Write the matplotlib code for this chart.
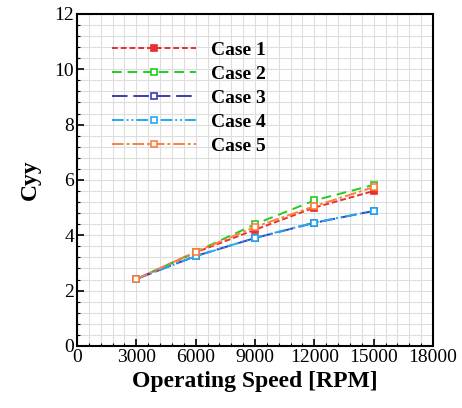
import matplotlib
matplotlib.use("Agg")
import matplotlib.pyplot as plt
from matplotlib.ticker import MultipleLocator

rpm = [3000, 6000, 9000, 12000, 15000]
case1 = [2.42, 3.38, 4.20, 5.00, 5.60]
case2 = [2.42, 3.40, 4.40, 5.26, 5.82]
case3 = [2.42, 3.25, 3.90, 4.45, 4.88]
case4 = [2.42, 3.24, 3.91, 4.46, 4.88]
case5 = [2.42, 3.40, 4.30, 5.05, 5.74]
labels = ["Case 1", "Case 2", "Case 3", "Case 4", "Case 5"]

plt.rcParams['font.family'] = ['Liberation Serif', 'DejaVu Serif']

fig = plt.figure(figsize=(4.62, 4.08), dpi=100)
ax = fig.add_axes([0.1667, 0.152, 0.7706, 0.814])

styles = [
    dict(color="#e8302c", ls=(0, (3, 1.5)), mfc="#e8302c"),
    dict(color="#22cc22", ls=(0, (5, 3)), mfc="white"),
    dict(color="#3c3cb4", ls=(0, (8, 3)), mfc="white"),
    dict(color="#22aaf0", ls=(0, (6, 1.5, 1, 1.5, 1, 1.5)), mfc="white"),
    dict(color="#ff7f40", ls=(0, (6, 1.5, 1.5, 1.5)), mfc="white"),
]
for y, lab, st in zip([case1, case2, case3, case4, case5], labels, styles):
    ax.plot(rpm, y, color=st["color"], ls=st["ls"], lw=1.4, marker="s", ms=3.8,
            mfc=st["mfc"], mec=st["color"], mew=1.2, label=lab)

ax.set_xlim(0, 18000)
ax.set_ylim(0, 12)
ax.xaxis.set_major_locator(MultipleLocator(3000))
ax.xaxis.set_minor_locator(MultipleLocator(600))
ax.yaxis.set_major_locator(MultipleLocator(2))
ax.yaxis.set_minor_locator(MultipleLocator(0.4))
ax.grid(which="both", color="#dddddd", lw=0.8)
ax.set_axisbelow(True)
for s in ax.spines.values():
    s.set_linewidth(1.5)
ax.tick_params(which="major", direction="in", length=5, width=1.2, labelsize=14, pad=2)
ax.tick_params(which="minor", direction="in", length=2.5, width=0.8)
ax.set_xlabel("Operating Speed [RPM]", fontsize=17, fontweight="bold", labelpad=4)
ax.set_ylabel("Cyy", fontsize=17, fontweight="bold", labelpad=10)

leg = ax.legend(loc="upper left", bbox_to_anchor=(0.05, 0.97), frameon=False,
                prop=dict(size=14, weight="bold"), handlelength=4.3,
                labelspacing=0.33, handletextpad=0.8)

fig.savefig("out.png", dpi=100)
